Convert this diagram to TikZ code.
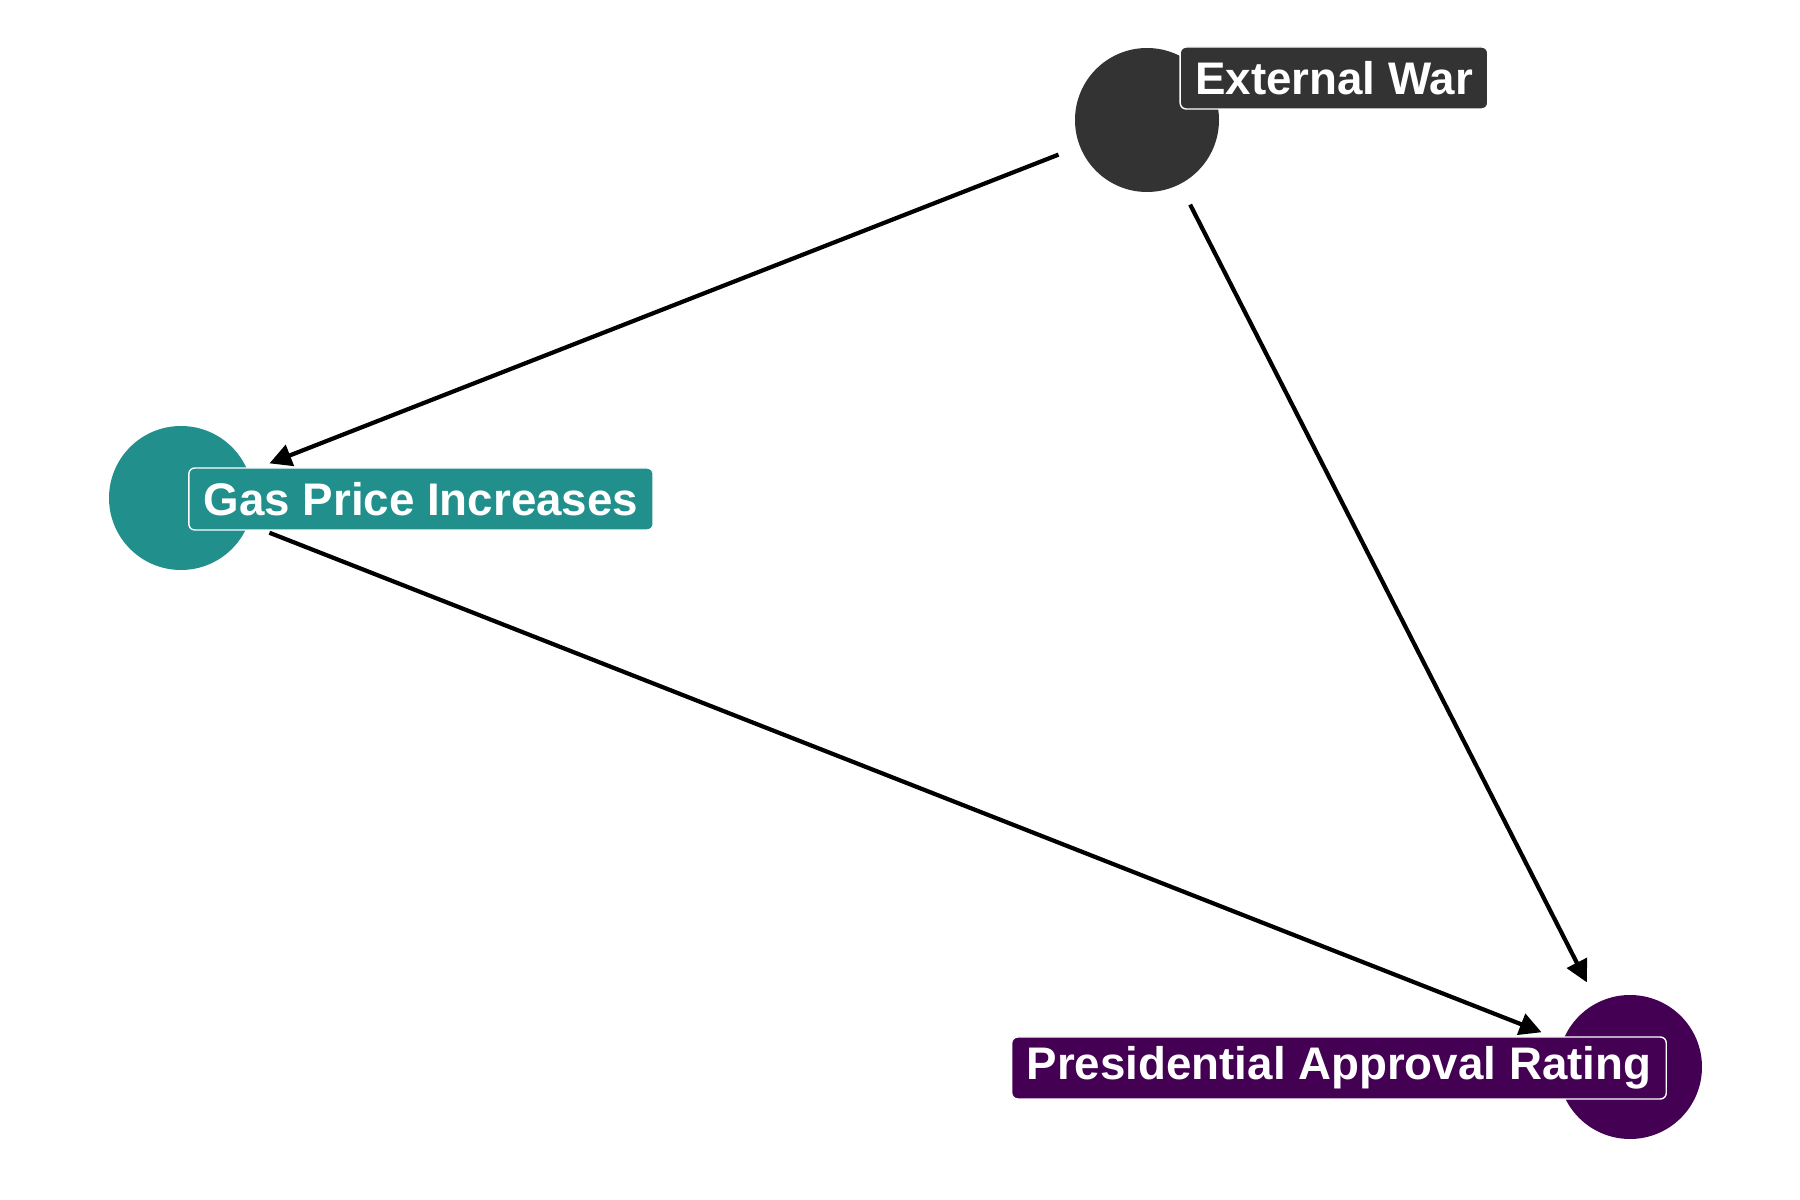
\documentclass[tikz,border=0pt]{standalone}
\usepackage{fontspec}
\setmainfont{Liberation Sans}
\usetikzlibrary{arrows.meta}
\definecolor{dagDark}{RGB}{51, 51, 51}
\definecolor{dagTeal}{RGB}{33, 144, 140}
\definecolor{dagPurple}{RGB}{68, 1, 84}

\begin{document}
\begin{tikzpicture}[
  dagnode/.style={circle,minimum size=1.44cm,inner sep=0pt,outer sep=0.23cm},
  daglabel/.style={draw=white,line width=0.4pt,rounded corners=0.06cm,text=white,inner xsep=0.15cm,inner ysep=0pt,minimum height=0.62cm,font=\fontsize{13}{15}\selectfont\bfseries},
  arrow/.style={-{Triangle[length=0.22cm,width=0.22cm]},line width=1.2pt,black}
]
  \useasboundingbox (0,0) rectangle (18,12);
  \node[dagnode,fill=dagDark] (war) at (11.47,10.80) {};
  \node[dagnode,fill=dagTeal] (gas) at (1.81,7.02) {};
  \node[dagnode,fill=dagPurple] (rating) at (16.30,1.33) {};
  \draw[arrow] (war) -- (gas);
  \draw[arrow] (war) -- (rating);
  \draw[arrow] (gas) -- (rating);
  \node[daglabel,fill=dagDark] (warlabel) at (13.34,11.22) {External War};
  \node[daglabel,fill=dagTeal] (gaslabel) at (4.21,7.01) {Gas Price Increases};
  \node[daglabel,fill=dagPurple] (ratinglabel) at (13.39,1.32) {Presidential Approval Rating};
\end{tikzpicture}
\end{document}
